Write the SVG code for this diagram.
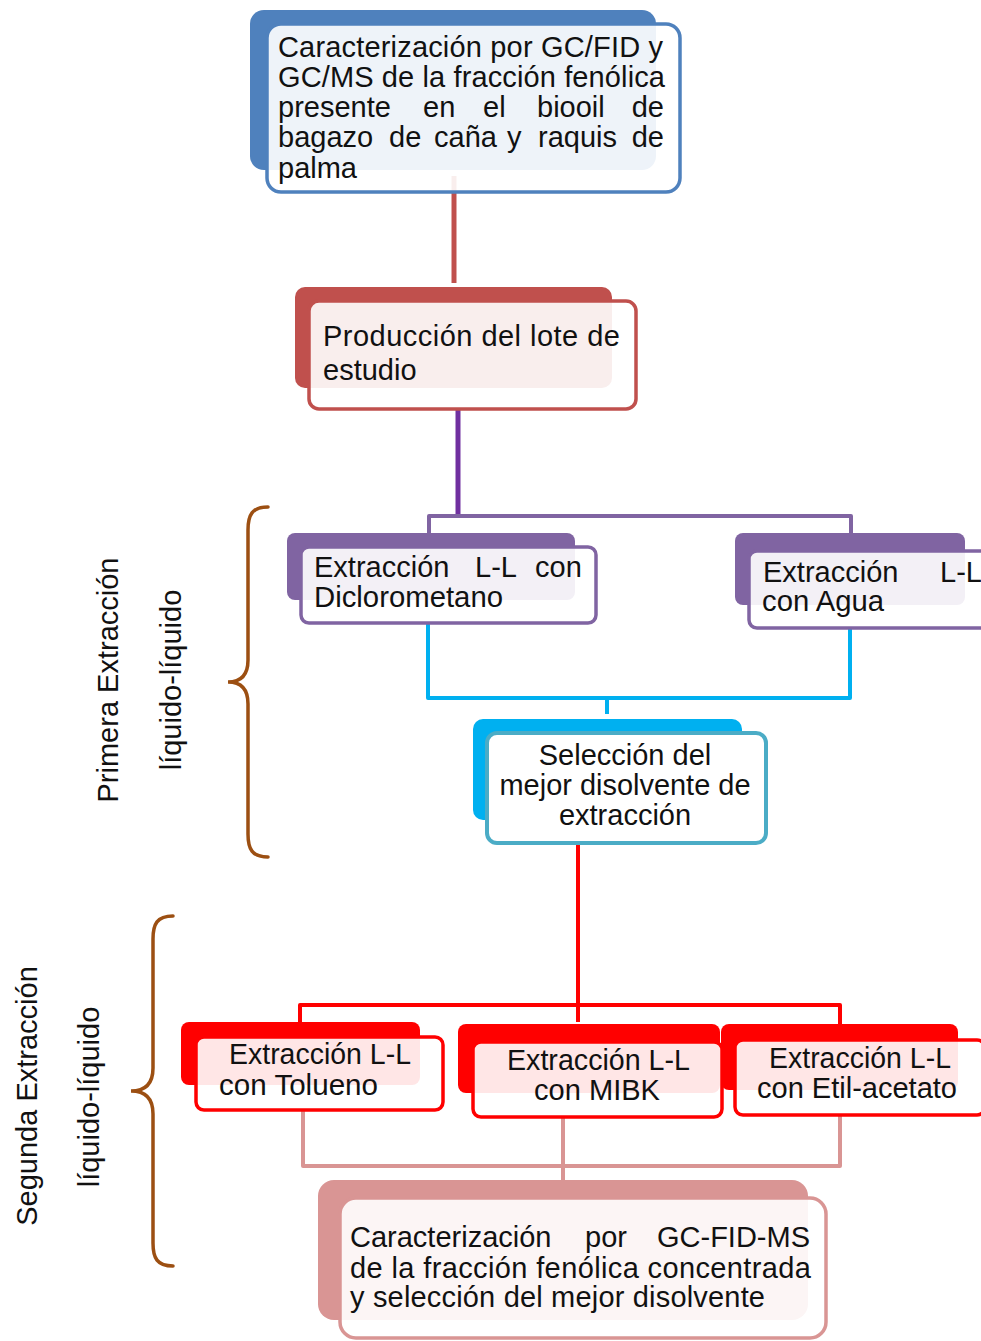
<svg xmlns="http://www.w3.org/2000/svg" width="981" height="1341" viewBox="0 0 981 1341">
<style>
text{font-family:"Liberation Sans",Arial,sans-serif;font-size:29px;fill:#111}
.c{text-anchor:middle}
.e{text-anchor:end}
.front{fill:#fff;fill-opacity:0.9;stroke-width:3.5}
.conn{fill:none;stroke-width:4;stroke-linejoin:round}
.brace{fill:none;stroke:#9C4F12;stroke-width:3.5;stroke-linecap:round}
</style>
<rect width="981" height="1341" fill="#fff"/>

<g id="connectors">
<line x1="454" y1="176" x2="454" y2="283" stroke="#C0504D" stroke-width="5"/>
<line x1="458" y1="408" x2="458" y2="514" stroke="#7030A0" stroke-width="5"/>
<path class="conn" stroke="#8064A2" d="M429,533 V516 H851 V533"/>
<path class="conn" stroke="#00B0F0" d="M428,622 V698 H850 V627"/>
<path class="conn" stroke="#00B0F0" d="M607,698 V714"/>
<path class="conn" stroke="#FF0000" d="M578,842 V1022"/>
<path class="conn" stroke="#FF0000" d="M300,1022 V1005 H840 V1024"/>
<path class="conn" stroke="#D99594" d="M303,1109 V1166 H840 V1114"/>
<path class="conn" stroke="#D99594" d="M563,1116 V1184"/>
</g>

<g id="node-caracterizacion">
<rect x="250" y="10" width="406" height="160" rx="14" fill="#4F81BD"/>
<rect class="front" x="267" y="24" width="413" height="168" rx="14" stroke="#4F81BD"/>
<text x="278" y="57" textLength="385" lengthAdjust="spacing">Caracterización por GC/FID y</text>
<text x="278" y="87" textLength="387" lengthAdjust="spacing">GC/MS de la fracción fenólica</text>
<text y="117"><tspan x="278">presente</tspan><tspan x="423">en</tspan><tspan x="483">el</tspan><tspan x="537">biooil</tspan><tspan class="e" x="664">de</tspan></text>
<text y="147"><tspan x="278">bagazo</tspan><tspan x="389">de</tspan><tspan x="434">caña</tspan><tspan x="507">y</tspan><tspan x="538">raquis</tspan><tspan class="e" x="664">de</tspan></text>
<text x="278" y="178">palma</text>
</g>

<g id="node-produccion">
<rect x="295" y="287" width="317" height="101" rx="10" fill="#C0504D"/>
<rect class="front" x="309" y="301" width="327" height="108" rx="10" stroke="#C0504D"/>
<text x="323" y="346" textLength="297" lengthAdjust="spacing">Producción del lote de</text>
<text x="323" y="380">estudio</text>
</g>

<g id="node-diclorometano">
<rect x="287" y="533" width="288" height="67" rx="8" fill="#8064A2"/>
<rect class="front" x="301" y="547" width="295" height="76" rx="8" stroke="#8064A2"/>
<text y="577"><tspan x="314">Extracción</tspan><tspan x="475">L-L</tspan><tspan x="535">con</tspan></text>
<text x="314" y="607" textLength="189" lengthAdjust="spacingAndGlyphs">Diclorometano</text>
</g>

<g id="node-agua">
<rect x="735" y="533" width="230" height="72" rx="8" fill="#8064A2"/>
<rect class="front" x="749" y="551" width="250" height="77" rx="8" stroke="#8064A2"/>
<text y="582"><tspan x="763">Extracción</tspan><tspan x="940">L-L</tspan></text>
<text x="762" y="611" textLength="122" lengthAdjust="spacingAndGlyphs">con Agua</text>
</g>

<g id="node-seleccion">
<rect x="473" y="719" width="269" height="101" rx="10" fill="#00B0F0"/>
<rect x="487" y="733" width="279" height="110" rx="10" fill="#fff" stroke="#4BACC6" stroke-width="4"/>
<text class="c" x="625" y="765">Selección del</text>
<text class="c" x="625" y="795" textLength="251" lengthAdjust="spacingAndGlyphs">mejor disolvente de</text>
<text class="c" x="625" y="825">extracción</text>
</g>

<g id="node-tolueno">
<rect x="181" y="1022" width="239" height="63" rx="8" fill="#FF0000"/>
<rect class="front" x="196" y="1037" width="247" height="73" rx="8" stroke="#FF0000"/>
<text x="229" y="1064" textLength="182" lengthAdjust="spacingAndGlyphs">Extracción L-L</text>
<text x="219" y="1095" textLength="159" lengthAdjust="spacingAndGlyphs">con Tolueno</text>
</g>

<g id="node-mibk">
<rect x="458" y="1024" width="262" height="69" rx="8" fill="#FF0000"/>
<rect class="front" x="473" y="1042" width="249" height="75" rx="8" stroke="#FF0000"/>
<text x="507" y="1070" textLength="183" lengthAdjust="spacingAndGlyphs">Extracción L-L</text>
<text x="534" y="1100" textLength="126" lengthAdjust="spacingAndGlyphs">con MIBK</text>
</g>

<g id="node-etil">
<rect x="721" y="1024" width="237" height="66" rx="8" fill="#FF0000"/>
<rect class="front" x="735" y="1040" width="250" height="75" rx="8" stroke="#FF0000"/>
<text x="769" y="1068" textLength="182" lengthAdjust="spacingAndGlyphs">Extracción L-L</text>
<text x="757" y="1098" textLength="200" lengthAdjust="spacingAndGlyphs">con Etil-acetato</text>
</g>

<g id="node-final">
<rect x="318" y="1180" width="490" height="140" rx="16" fill="#D99594"/>
<rect class="front" x="340" y="1198" width="486" height="140" rx="16" stroke="#D99594"/>
<text y="1247"><tspan x="350">Caracterización</tspan><tspan x="585">por</tspan><tspan class="e" x="810">GC-FID-MS</tspan></text>
<text x="350" y="1278" textLength="461" lengthAdjust="spacing">de la fracción fenólica concentrada</text>
<text x="350" y="1307" textLength="415" lengthAdjust="spacing">y selección del mejor disolvente</text>
</g>

<g id="label-primera">
<path class="brace" d="M268,507 C252,507 248,515 248,530 V660 C248,676 240,682 228,682 C240,682 248,688 248,704 V834 C248,849 252,857 268,857"/>
<text class="c" transform="translate(118,680) rotate(-90)">Primera Extracción</text>
<text class="c" transform="translate(181,680) rotate(-90)">líquido-líquido</text>
</g>

<g id="label-segunda">
<path class="brace" d="M173,916 C157,916 153,924 153,939 V1068 C153,1084 145,1091 131,1091 C145,1091 153,1098 153,1114 V1243 C153,1258 157,1266 173,1266"/>
<text class="c" transform="translate(37,1096) rotate(-90)">Segunda Extracción</text>
<text class="c" transform="translate(99,1097) rotate(-90)">líquido-líquido</text>
</g>
</svg>
